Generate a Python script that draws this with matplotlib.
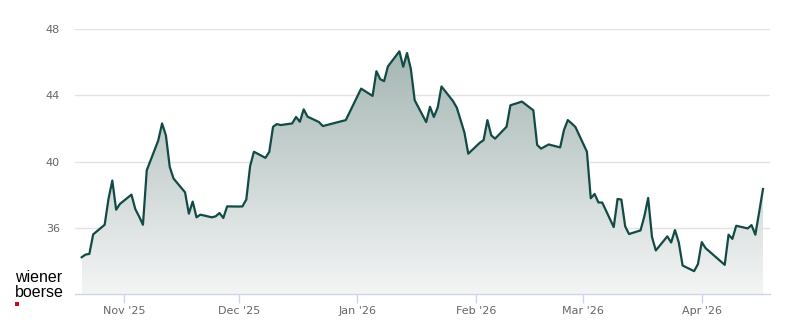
import numpy as np
import pandas as pd
import matplotlib
matplotlib.use("Agg")
import matplotlib.pyplot as plt
import matplotlib.dates as mdates
from matplotlib.colors import LinearSegmentedColormap

# ---- data ----
dates = [
    "2025-10-21", "2025-10-22", "2025-10-23", "2025-10-24", "2025-10-27", "2025-10-28",
    "2025-10-29", "2025-10-30", "2025-10-31", "2025-11-03", "2025-11-04", "2025-11-05",
    "2025-11-06", "2025-11-07", "2025-11-10", "2025-11-11", "2025-11-12", "2025-11-13",
    "2025-11-14", "2025-11-17", "2025-11-18", "2025-11-19", "2025-11-20", "2025-11-21",
    "2025-11-24", "2025-11-25", "2025-11-26", "2025-11-27", "2025-11-28", "2025-12-01",
    "2025-12-02", "2025-12-03", "2025-12-04", "2025-12-05", "2025-12-08", "2025-12-09",
    "2025-12-10", "2025-12-11", "2025-12-12", "2025-12-15", "2025-12-16", "2025-12-17",
    "2025-12-18", "2025-12-19", "2025-12-22", "2025-12-23", "2025-12-29", "2026-01-02",
    "2026-01-05", "2026-01-06", "2026-01-07", "2026-01-08", "2026-01-09", "2026-01-12",
    "2026-01-13", "2026-01-14", "2026-01-15", "2026-01-16", "2026-01-19", "2026-01-20",
    "2026-01-21", "2026-01-22", "2026-01-23", "2026-01-26", "2026-01-27", "2026-01-28",
    "2026-01-29", "2026-01-30", "2026-02-02", "2026-02-03", "2026-02-04", "2026-02-05",
    "2026-02-06", "2026-02-09", "2026-02-10", "2026-02-11", "2026-02-12", "2026-02-13",
    "2026-02-16", "2026-02-17", "2026-02-18", "2026-02-19", "2026-02-20", "2026-02-23",
    "2026-02-24", "2026-02-25", "2026-02-26", "2026-02-27", "2026-03-02", "2026-03-03",
    "2026-03-04", "2026-03-05", "2026-03-06", "2026-03-09", "2026-03-10", "2026-03-11",
    "2026-03-12", "2026-03-13", "2026-03-16", "2026-03-17", "2026-03-18", "2026-03-19",
    "2026-03-20", "2026-03-23", "2026-03-24", "2026-03-25", "2026-03-26", "2026-03-27",
    "2026-03-30", "2026-03-31", "2026-04-01", "2026-04-02", "2026-04-07", "2026-04-08",
    "2026-04-09", "2026-04-10", "2026-04-13", "2026-04-14", "2026-04-15", "2026-04-16",
    "2026-04-17",
]
prices = [
    34.22, 34.38, 34.42, 35.60, 36.18, 37.74,
    38.85, 37.09, 37.44, 38.00, 37.13, 36.68,
    36.18, 39.47, 41.27, 42.30, 41.58, 39.68,
    38.97, 38.14, 36.85, 37.58, 36.63, 36.79,
    36.63, 36.69, 36.89, 36.59, 37.29, 37.28,
    37.29, 37.70, 39.72, 40.59, 40.22, 40.58,
    42.10, 42.26, 42.20, 42.30, 42.69, 42.40,
    43.15, 42.71, 42.38, 42.14, 42.50, 44.40,
    43.96, 45.45, 44.97, 44.85, 45.74, 46.65,
    45.72, 46.55, 45.58, 43.70, 42.38, 43.30,
    42.69, 43.25, 44.53, 43.65, 43.25, 42.50,
    41.74, 40.47, 41.13, 41.29, 42.50, 41.58,
    41.38, 42.10, 43.39, 43.47, 43.54, 43.62,
    43.09, 41.00, 40.78, 40.90, 41.03, 40.85,
    41.90, 42.50, 42.30, 42.08, 40.59, 37.78,
    38.04, 37.53, 37.52, 36.04, 37.74, 37.70,
    36.08, 35.62, 35.84, 36.69, 37.80, 35.44,
    34.63, 35.48, 35.11, 35.86, 35.11, 33.72,
    33.38, 33.80, 35.13, 34.77, 33.76, 35.58,
    35.33, 36.12, 35.96, 36.16, 35.58, 36.95,
    38.34,
]
y_ticks = [36, 40, 44, 48]
x_tick_dates = ["2025-11-01", "2025-12-01", "2026-01-01", "2026-02-01", "2026-03-01", "2026-04-01"]
x_tick_labels = ["Nov '25", "Dec '25", "Jan '26", "Feb '26", "Mar '26", "Apr '26"]

# ---- figure ----
W, H = 800, 324
fig = plt.figure(figsize=(W / 100, H / 100), dpi=100)
fig.patch.set_facecolor("white")
ax = fig.add_axes([75 / W, (H - 294) / H, 695 / W, 265 / H])
ax.set_facecolor("white")

x = mdates.date2num(pd.to_datetime(dates))
y = np.array(prices)
ymin, ymax = 32, 48

x0 = x[0] - 1.75
x1 = x[-1] + 1.83
ax.set_xlim(x0, x1)
ax.set_ylim(ymin, ymax)

# gradient area
poly = ax.fill_between(x, y, ymin, facecolor="none", edgecolor="none")
cmap = LinearSegmentedColormap.from_list("g", [(0.955, 0.96, 0.96), (0.64, 0.71, 0.70)])
grad = np.linspace(0, 1, 256).reshape(-1, 1)
img = ax.imshow(grad, extent=[x[0], x[-1], ymin, 47.0], origin="lower", aspect="auto",
                cmap=cmap, zorder=1, interpolation="bicubic")
img.set_clip_path(poly.get_paths()[0], transform=ax.transData)
ax.set_xlim(x0, x1)
ax.set_ylim(ymin, ymax)

ax.plot(x, y, color="#124a45", lw=1.6, zorder=3, solid_joinstyle="round")

# grid
for v in y_ticks:
    ax.axhline(v, color="#e3e3e3", lw=1.0, zorder=0)

for s in ["top", "right", "left"]:
    ax.spines[s].set_visible(False)
ax.spines["bottom"].set_color("#ccd6eb")
ax.spines["bottom"].set_linewidth(1.0)

ax.set_yticks(y_ticks)
ax.set_yticklabels([str(v) for v in y_ticks])
ax.tick_params(axis="y", length=0, pad=11, labelsize=8, labelcolor="#666666")

ax.set_xticks(mdates.date2num(pd.to_datetime(x_tick_dates)))
ax.set_xticklabels(x_tick_labels)
ax.tick_params(axis="x", length=6.5, width=1, color="#ccd6eb", pad=2,
               labelsize=8, labelcolor="#666666", direction="out")

# logo
fig.text(15 / W, 1 - 281.5 / H, "wiener", fontsize=11.5, family="Liberation Sans",
         color="black", va="baseline", ha="left")
fig.text(15 / W, 1 - 297 / H, "boerse", fontsize=11.5, family="Liberation Sans",
         color="black", va="baseline", ha="left")
fig.patches.append(plt.Rectangle((15 / W, 1 - 305.7 / H), 4.3 / W, 4 / H,
                                 transform=fig.transFigure, facecolor="#d6001c",
                                 edgecolor="none"))

fig.savefig("out.png", dpi=100, facecolor="white")
